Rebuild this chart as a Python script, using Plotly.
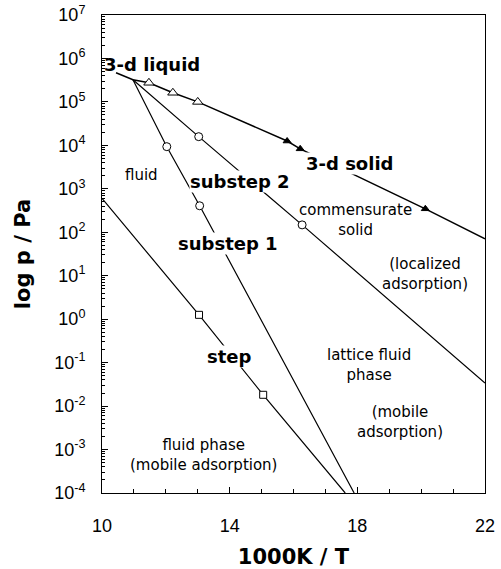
import plotly.graph_objects as go

# ---- data (x = 1000K/T, y = p / Pa) ----
line3d_x = [10.44, 10.97, 11.47, 12.22, 13.00, 15.80, 16.21, 20.13, 22.0]
line3d_y = [10**5.67, 10**5.51, 10**5.44, 10**5.21, 10**5.00, 10**4.10, 10**3.92, 10**2.54, 10**1.85]

liquid_x = [11.47, 12.22, 13.00]
liquid_y = [10**5.44, 10**5.21, 10**5.00]

solid_x = [15.80, 16.21, 20.13]
solid_y = [10**4.10, 10**3.92, 10**2.54]

sub2_x = [10.97, 13.03, 16.27, 22.0]
sub2_y = [10**5.51, 10**4.20, 10**2.17, 10**-1.47]
sub2_pts_x = [13.03, 16.27]
sub2_pts_y = [10**4.20, 10**2.17]

sub1_x = [10.97, 12.03, 13.06, 17.90]
sub1_y = [10**5.51, 10**3.97, 10**2.61, 10**-4.0]
sub1_pts_x = [12.03, 13.06]
sub1_pts_y = [10**3.97, 10**2.61]

step_x = [10.0, 13.04, 15.05, 17.62]
step_y = [10**2.78, 10**0.10, 10**-1.74, 10**-4.0]
step_pts_x = [13.04, 15.05]
step_pts_y = [10**0.10, 10**-1.74]

ytick_vals = [1e-4, 1e-3, 1e-2, 1e-1, 1e0, 1e1, 1e2, 1e3, 1e4, 1e5, 1e6, 1e7]
ytick_text = ["10<sup>-4</sup>", "10<sup>-3</sup>", "10<sup>-2</sup>", "10<sup>-1</sup>",
              "10<sup>0</sup>", "10<sup>1</sup>", "10<sup>2</sup>", "10<sup>3</sup>",
              "10<sup>4</sup>", "10<sup>5</sup>", "10<sup>6</sup>", "10<sup>7</sup>"]
xtick_vals = [10, 14, 18, 22]
xtick_text = ["10", "14", "18", "22"]
xminor_vals = [11, 12, 13, 15, 16, 17, 19, 20, 21]
yminor_mult = [2, 3, 4, 5, 6, 7, 8, 9]

# labels: (text, x, log10 y, bold, masked)
labels = [
    ("3-d liquid", 11.57, 5.87, True, False),
    ("3-d solid", 17.77, 3.59, True, True),
    ("substep 2", 14.33, 3.16, True, True),
    ("substep 1", 13.95, 1.75, True, True),
    ("step", 14.01, -0.87, True, True),
    ("fluid", 11.25, 3.32, False, False),
    ("commensurate<br>solid", 17.93, 2.28, False, False),
    ("(localized<br>adsorption)", 20.13, 1.04, False, False),
    ("lattice fluid<br>phase", 18.37, -1.06, False, False),
    ("(mobile<br>adsorption)", 19.34, -2.37, False, False),
    ("fluid phase<br>(mobile adsorption)", 13.17, -3.13, False, False),
]

yminor_vals = [m * d for d in ytick_vals[:-1] for m in yminor_mult]

fig = go.Figure()
blk = "black"
fig.add_trace(go.Scatter(x=line3d_x, y=line3d_y, mode="lines",
                         line=dict(color=blk, width=1.5), showlegend=False))
fig.add_trace(go.Scatter(x=sub2_x, y=sub2_y, mode="lines",
                         line=dict(color=blk, width=1.2), showlegend=False))
fig.add_trace(go.Scatter(x=sub1_x, y=sub1_y, mode="lines",
                         line=dict(color=blk, width=1.2), showlegend=False))
fig.add_trace(go.Scatter(x=step_x, y=step_y, mode="lines",
                         line=dict(color=blk, width=1.2), showlegend=False))

fig.add_trace(go.Scatter(x=liquid_x, y=liquid_y, mode="markers", showlegend=False,
                         marker=dict(symbol="triangle-up", size=9, color="white",
                                     line=dict(color=blk, width=1))))
fig.add_trace(go.Scatter(x=solid_x, y=solid_y, mode="markers", showlegend=False,
                         marker=dict(symbol="triangle-up", size=7, color=blk,
                                     line=dict(color=blk, width=1))))
fig.add_trace(go.Scatter(x=sub2_pts_x + sub1_pts_x, y=sub2_pts_y + sub1_pts_y,
                         mode="markers", showlegend=False,
                         marker=dict(symbol="circle", size=8, color="white",
                                     line=dict(color=blk, width=1))))
fig.add_trace(go.Scatter(x=step_pts_x, y=step_pts_y, mode="markers", showlegend=False,
                         marker=dict(symbol="square", size=7, color="white",
                                     line=dict(color=blk, width=1))))

for txt, lx, ly, bold, masked in labels:
    fig.add_annotation(
        x=lx, y=ly, xref="x", yref="y", text=txt, showarrow=False,
        font=dict(family="DejaVu Sans", size=18 if bold else 15, color=blk,
                  weight="bold" if bold else "normal"),
        bgcolor="white" if masked else "rgba(0,0,0,0)", borderpad=0,
        xanchor="center", yanchor="middle", align="center")

fig.update_layout(
    width=501, height=569, autosize=False,
    margin=dict(l=102, r=16, t=15, b=76, autoexpand=False),
    paper_bgcolor="white", plot_bgcolor="white",
    font=dict(family="Liberation Sans, Arial", color=blk),
    xaxis=dict(range=[10, 22], tickmode="array", tickvals=xtick_vals, ticktext=xtick_text,
               ticks="inside", ticklen=6, tickcolor=blk, showgrid=False, zeroline=False,
               showline=True, linecolor=blk, linewidth=1, mirror=True, automargin=False,
               tickfont=dict(size=18), ticklabelstandoff=16,
               minor=dict(tickmode="array", tickvals=xminor_vals, ticks="inside",
                          ticklen=4, tickcolor=blk, showgrid=False),
               title=dict(text="1000K / T", standoff=20,
                          font=dict(family="DejaVu Sans", size=21, weight="bold"))),
    yaxis=dict(type="log", range=[-4, 7], tickmode="array", tickvals=ytick_vals,
               ticktext=ytick_text, ticks="inside", ticklen=6, tickcolor=blk,
               showgrid=False, zeroline=False, showline=True, linecolor=blk, linewidth=1,
               mirror=True, automargin=False, tickfont=dict(size=18), ticklabelstandoff=12,
               minor=dict(tickmode="array", tickvals=yminor_vals, ticks="inside",
                          ticklen=3, tickcolor=blk, showgrid=False),
               title=dict(text="log p / Pa", standoff=17,
                          font=dict(family="DejaVu Sans", size=21, weight="bold"))),
)

fig.write_html("out.html", config={"displayModeBar": False},
               post_script="document.body.style.margin='0';document.body.style.padding='0';")
